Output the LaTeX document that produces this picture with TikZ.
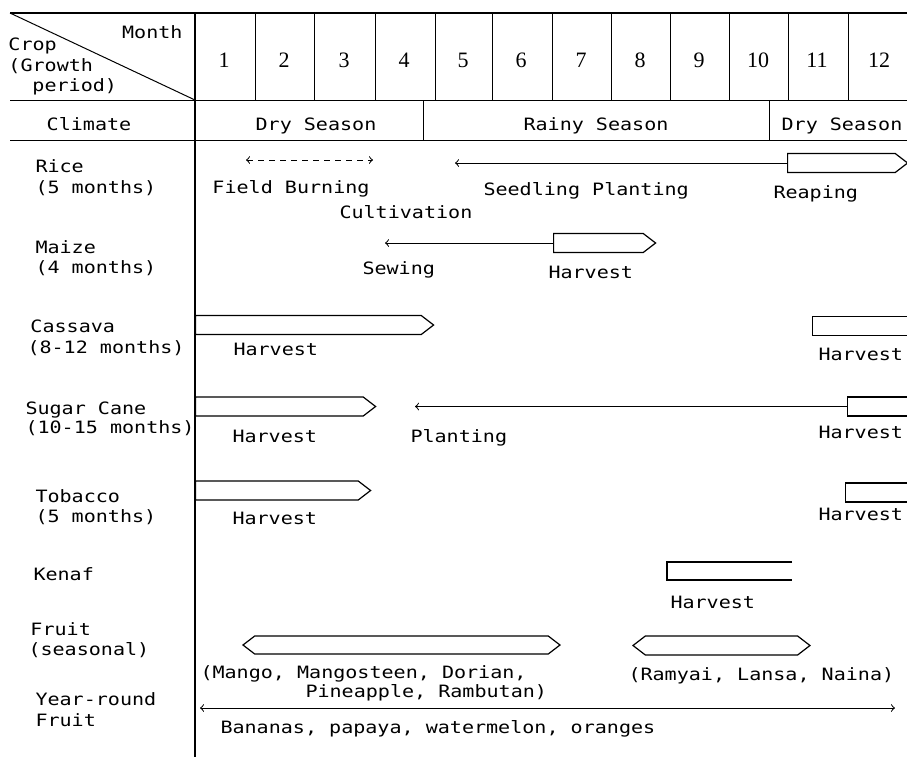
\documentclass[tikz,border=0pt]{standalone}
\usepackage{fontspec}
\newfontfamily\dotfont[FakeStretch=1.18]{DejaVu Sans Mono}
\newfontfamily\numfont{Liberation Serif}
\usetikzlibrary{shapes.symbols}

\begin{document}
\begin{tikzpicture}[x=0.5pt, y=-0.5pt, line width=0.5pt,
  lbl/.style={font=\fontsize{8.5}{10}\dotfont, inner sep=0pt, anchor=base west},
  mon/.style={font=\fontsize{11}{12}\numfont, inner sep=0pt, anchor=base},
  bar/.style={draw, signal, signal pointer angle=75, minimum height=9.5pt,
    inner sep=0pt, anchor=west, line width=0.6pt},
  cut/.style={bar, signal to=nowhere},
  hexbar/.style={bar, signal from=nowhere, signal to=west and east}]
\useasboundingbox (0,0) rectangle (907,757);
\clip (0,0) rectangle (907,757);

% header
\draw[line width=1pt] (10,13) -- (907,13);
\draw (10,13) -- (195,100);
\draw (10,100) -- (907,100);
\draw (10,140) -- (907,140);
\draw[line width=0.7pt] (195,13) -- (195,757);
\foreach \xx in {255,314,375,435,492,552,611,670,729,788,848}
  \draw (\xx,13) -- (\xx,100);
\draw (423,100) -- (423,140);
\draw (769,100) -- (769,140);

\foreach \m/\xx in {1/224,2/284,3/344,4/404,5/463,6/521,7/581,8/640,9/699,10/758,11/817,12/879}
  \node[mon] (m\m) at (\xx,67) {\m};

\node[lbl, anchor=base east] (month) at (183,38) {Month};
\node[lbl] (crop) at (8,50) {Crop};
\node[lbl] (growth) at (8,71) {(Growth};
\node[lbl] (period) at (32,91) {period)};
\node[lbl, anchor=base] (climate) at (89,130) {Climate};
\node[lbl, anchor=base] (dry1) at (316,130) {Dry Season};
\node[lbl, anchor=base] (rainy) at (596,130) {Rainy Season};
\node[lbl, anchor=base] (dry2) at (842,130) {Dry Season};

% rice
\node[lbl] (rice) at (35,172) {Rice};
\node[lbl] (rice5) at (35,193) {(5 months)};
\coordinate (burnL) at (246,160);
\coordinate (burnR) at (373,160);
\draw[<->, dash pattern=on 3pt off 2.5pt] (burnL) -- (burnR);
\node[bar, minimum width=60pt] (reap) at (787,163) {};
\coordinate (seed) at (455,163);
\draw[->] (reap.west) -- (seed);
\node[lbl] (burn) at (212,193) {Field Burning};
\node[lbl] (cult) at (339,218) {Cultivation};
\node[lbl] (plant) at (483,195) {Seedling Planting};
\node[lbl] (reaping) at (773,198) {Reaping};

% maize
\node[lbl] (maize) at (35,253) {Maize};
\node[lbl] (maize4) at (35,273) {(4 months)};
\node[bar, minimum width=51pt] (maizeharv) at (553,243) {};
\coordinate (sew) at (385,243);
\draw[->] (maizeharv.west) -- (sew);
\node[lbl] (sewing) at (362,274) {Sewing};
\node[lbl] (maizeh) at (548,278) {Harvest};

% cassava
\node[lbl] (cassava) at (30,332) {Cassava};
\node[lbl] (cassava12) at (27,353) {(8-12 months)};
\node[bar, minimum width=119pt] (casbarA) at (195,325) {};
\node[cut, minimum width=150pt] (casbarB) at (812,326) {};
\node[lbl] (cash1) at (233,355) {Harvest};
\node[lbl] (cash2) at (818,360) {Harvest};

% sugar cane
\node[lbl] (cane) at (25,414) {Sugar Cane};
\node[lbl] (cane15) at (25,433) {(10-15 months)};
\node[bar, minimum width=90pt] (canebarA) at (195,406.5) {};
\node[cut, minimum width=100pt] (canebarB) at (847,406.5) {};
\coordinate (caneplant) at (415,406.5);
\draw[->] (canebarB.west) -- (caneplant);
\node[lbl] (caneh1) at (232,442) {Harvest};
\node[lbl] (planting) at (410,442) {Planting};
\node[lbl] (caneh2) at (818,438) {Harvest};

% tobacco
\node[lbl] (tobacco) at (35,502) {Tobacco};
\node[lbl] (tobacco5) at (35,522) {(5 months)};
\node[bar, minimum width=87.5pt] (tobbarA) at (195,490.5) {};
\node[cut, minimum width=100pt] (tobbarB) at (845,492.5) {};
\node[lbl] (tobh1) at (232,524) {Harvest};
\node[lbl] (tobh2) at (818,520) {Harvest};

% kenaf
\node[lbl] (kenaf) at (33,580) {Kenaf};
\draw[line width=0.6pt] (792,562) -| (667,580) -- (792,580);
\node[lbl] (kenafh) at (670,608) {Harvest};

% fruit
\node[lbl] (fruit) at (30,635) {Fruit};
\node[lbl] (seasonal) at (28,655) {(seasonal)};
\node[hexbar, minimum width=158.5pt, minimum height=9pt] (fruitA) at (242,645) {};
\node[hexbar, minimum width=88.5pt] (fruitB) at (632,645.5) {};
\node[lbl] (mango) at (200,678) {(Mango, Mangosteen, Dorian,};
\node[lbl] (pine) at (305,697) {Pineapple, Rambutan)};
\node[lbl] (ramyai) at (628,680) {(Ramyai, Lansa, Naina)};

% year-round
\node[lbl] (year) at (35,705) {Year-round};
\node[lbl] (yfruit) at (35,726) {Fruit};
\coordinate (yrL) at (200,708);
\coordinate (yrR) at (895,708);
\draw[<->] (yrL) -- (yrR);
\node[lbl] (bananas) at (220,733) {Bananas, papaya, watermelon, oranges};

\end{tikzpicture}
\end{document}
